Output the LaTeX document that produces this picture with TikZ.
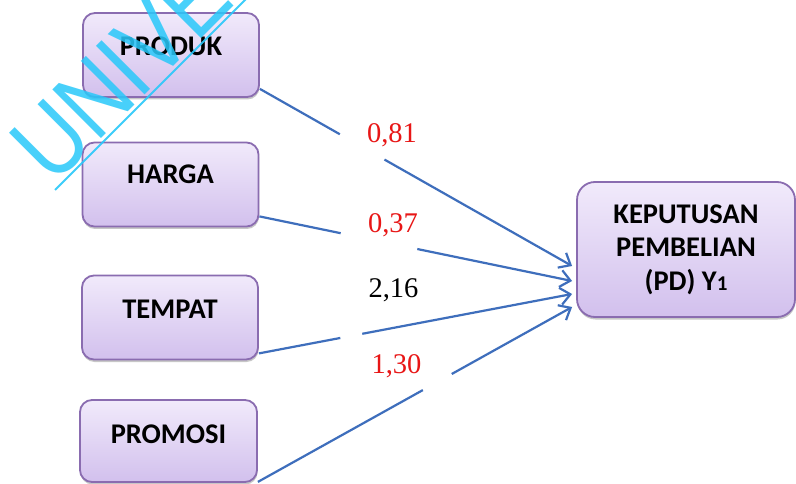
\documentclass[tikz,border=0pt]{standalone}
\usepackage{fontspec}
\setmainfont{Carlito}
\newfontfamily\numfont{Liberation Serif}
\newfontfamily\markfont{Liberation Sans}
\usetikzlibrary{arrows.meta,shadows}

\definecolor{boxtop}{RGB}{241,234,251}
\definecolor{boxbot}{RGB}{210,192,237}
\definecolor{boxedge}{RGB}{138,108,176}
\definecolor{linkblue}{RGB}{62,110,188}
\definecolor{coefred}{RGB}{232,22,22}
\definecolor{markcyan}{RGB}{40,200,250}

\begin{document}
\begin{tikzpicture}[x=1pt,y=-1pt,
  varbox/.style={draw=boxedge, line width=1.8pt, rounded corners=12pt,
    top color=boxtop, bottom color=boxbot,
    minimum width=176pt, minimum height=84pt, inner sep=0pt,
    drop shadow={shadow xshift=0.5pt, shadow yshift=-2.5pt, fill=black, opacity=0.22}},
  boxlabel/.style={font=\bfseries\fontsize{28.5}{34}\selectfont, inner sep=0pt},
  coef/.style={font=\numfont\fontsize{28.5}{30}\selectfont, inner sep=0pt, anchor=base},
  link/.style={draw=linkblue, line width=2.2pt},
  linkarrow/.style={link, -{Straight Barb[length=10pt, width=17pt]}}
]
\useasboundingbox (0,0) rectangle (796,484);
\fill[white] (0,0) rectangle (796,484);

% predictor boxes
\node[varbox] (prod) at (171,55) {};
\node[varbox] (harga) at (170.5,184.5) {};
\node[varbox] (tempat) at (170,317.5) {};
\node[varbox, minimum width=177pt, minimum height=82pt] (promosi) at (168.5,441) {};

\node[boxlabel] (tprod) at ([yshift=9pt]prod.center) {PRODUK};
\node[boxlabel] (tharga) at ([yshift=10pt]harga.center) {HARGA};
\node[boxlabel] (ttempat) at ([yshift=8.5pt]tempat.center) {TEMPAT};
\node[boxlabel] (tpromosi) at ([yshift=7pt]promosi.center) {PROMOSI};

% outcome box
\node[varbox, minimum width=218pt, minimum height=135pt, rounded corners=18pt,
  align=center, font=\bfseries\fontsize{28.5}{33.5}\selectfont] (kp) at (686,249.5)
  {KEPUTUSAN\\PEMBELIAN\\(PD) Y{\fontsize{21}{21}\selectfont 1}};

% path coefficients
\node[coef, text=coefred] (c1) at (392,143) {0,81};
\node[coef, text=coefred] (c2) at (393,233) {0,37};
\node[coef, text=black] (c3) at (393.5,297) {2,16};
\node[coef, text=coefred] (c4) at (396.5,373) {1,30};

% connector end points
\coordinate (s1) at ([yshift=9pt]prod.south east);
\coordinate (s2) at ([yshift=11pt]harga.south east);
\coordinate (s3) at ([yshift=7pt]tempat.south east);
\coordinate (s4) at ([yshift=1pt]promosi.south east);
\coordinate (e1) at ([xshift=-4pt,yshift=-16.5pt]kp.west);
\coordinate (e2) at ([xshift=-4pt,yshift=-31.5pt]kp.west);
\coordinate (e3) at ([xshift=-4pt,yshift=-44.5pt]kp.west);
\coordinate (e4) at ([xshift=-4pt,yshift=-57.5pt]kp.west);

% gaps in the connectors
\path (s1) -- (e1) coordinate[pos=0.256] (g1a) coordinate[pos=0.399] (g1b);
\path (s2) -- (e2) coordinate[pos=0.26] (g2a) coordinate[pos=0.505] (g2b);
\path (s3) -- (e3) coordinate[pos=0.26] (g3a) coordinate[pos=0.33] (g3b);
\path (s4) -- (e4) coordinate[pos=0.525] (g4a) coordinate[pos=0.617] (g4b);

\draw[link] (s1) -- (g1a);
\draw[linkarrow] (g1b) -- (e1);
\draw[link] (s2) -- (g2a);
\draw[linkarrow] (g2b) -- (e2);
\draw[link] (s3) -- (g3a);
\draw[linkarrow] (g3b) -- (e3);
\draw[link] (s4) -- (g4a);
\draw[linkarrow] (g4b) -- (e4);

% diagonal watermark
\begin{scope}
\clip (0,0) rectangle (796,484);
\node[font=\markfont\fontsize{100}{100}\selectfont, text=markcyan, text opacity=0.85,
  rotate=45, xscale=0.85, anchor=base west, inner sep=0pt] (wm) at (53,187) {UNIVE};
\draw[markcyan, line width=2pt, opacity=0.9] (55,190) -- (262,-17);
\end{scope}
\end{tikzpicture}
\end{document}
